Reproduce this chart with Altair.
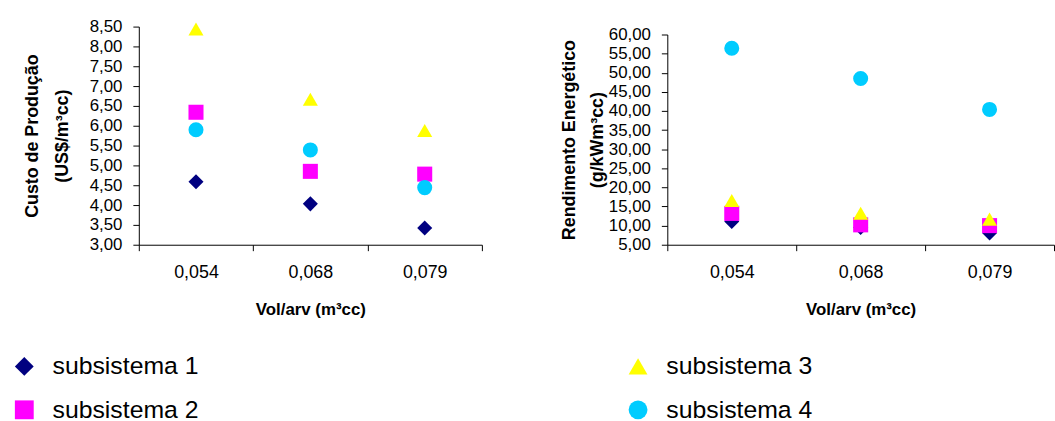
import altair as alt
import pandas as pd

# Categories on the x axis (tree volume, m³cc)
vol_labels = ["0,054", "0,068", "0,079"]
series_names = ["subsistema 1", "subsistema 2", "subsistema 3", "subsistema 4"]

# Production cost (US$/m³cc) per subsystem
custo_s1 = [4.59, 4.03, 3.42]
custo_s2 = [6.34, 4.85, 4.78]
custo_s3 = [8.44, 6.67, 5.88]
custo_s4 = [5.90, 5.39, 4.44]

# Energy yield (g/kWm³cc) per subsystem
rend_s1 = [11.1, 9.5, 8.1]
rend_s2 = [13.2, 10.2, 10.0]
rend_s3 = [16.6, 13.25, 11.7]
rend_s4 = [56.4, 48.5, 40.4]

custo_ticks = [3.0, 3.5, 4.0, 4.5, 5.0, 5.5, 6.0, 6.5, 7.0, 7.5, 8.0, 8.5]
rend_ticks = [5, 10, 15, 20, 25, 30, 35, 40, 45, 50, 55, 60]

colors = ["#000080", "#FF00FF", "#FFFF00", "#00CCFF"]
shapes = ["diamond", "square", "triangle-up", "circle"]

rows = []
custo_all = [custo_s1, custo_s2, custo_s3, custo_s4]
rend_all = [rend_s1, rend_s2, rend_s3, rend_s4]
for name, cs, rs in zip(series_names, custo_all, rend_all):
    for vol, c, r in zip(vol_labels, cs, rs):
        rows.append({"serie": name, "vol": vol, "custo": c, "rend": r})
df = pd.DataFrame(rows)

FONT = "Liberation Sans"
comma_fmt = "replace(format(datum.value, '.2f'), '.', ',')"

# Two-column legend below both panels: 1, 2 on the left and 3, 4 on the right
legend = alt.Legend(
    orient="none", legendX=-128, legendY=330, columns=2,
    columnPadding=430, rowPadding=18, symbolSize=361,
    labelFontSize=25, labelFont=FONT, labelOffset=16, labelLimit=0,
    padding=0, title=None, symbolOpacity=1, symbolStrokeWidth=0,
)
color = alt.Color("serie:N", scale=alt.Scale(domain=series_names, range=colors), legend=legend)
shape = alt.Shape("serie:N", scale=alt.Scale(domain=series_names, range=shapes), legend=legend)

x_enc = alt.X(
    "vol:N", sort=vol_labels,
    scale=alt.Scale(type="band", paddingInner=0, paddingOuter=0),
    axis=alt.Axis(
        title="Vol/arv (m³cc)", labelAngle=0, tickBand="extent",
        labelFontSize=18, titleFontSize=17, titleFontWeight="bold",
        tickSize=6, labelPadding=13, titlePadding=20,
    ),
)

base = alt.Chart(df).mark_point(filled=True, opacity=1, size=230)

left = base.encode(
    x=x_enc,
    y=alt.Y(
        "custo:Q",
        scale=alt.Scale(domain=[3, 8.5], nice=False, zero=False),
        axis=alt.Axis(
            values=custo_ticks, labelExpr=comma_fmt,
            title=["Custo de Produção", "(US$/m³cc)"],
            labelFontSize=17, titleFontSize=18, titleFontWeight="bold",
            titleLineHeight=30, tickSize=6, labelPadding=11, titlePadding=18,
        ),
    ),
    color=color, shape=shape,
).properties(width=346, height=220)

# The energy axis starts a little lower than the cost axis
right = base.encode(
    x=x_enc,
    y=alt.Y(
        "rend:Q",
        scale=alt.Scale(domain=[5, 60], nice=False, zero=False, range=[220, 8]),
        axis=alt.Axis(
            values=rend_ticks, labelExpr=comma_fmt,
            title=["Rendimento Energético", "(g/kWm³cc)"],
            labelFontSize=17, titleFontSize=18, titleFontWeight="bold",
            titleLineHeight=28, tickSize=6, labelPadding=11, titlePadding=2,
        ),
    ),
    color=color, shape=shape,
).properties(width=390, height=220)

chart = alt.hconcat(left, right, spacing=78).properties(
    padding={"left": 12, "top": 16, "right": 0, "bottom": 0}
).configure_view(stroke=None).configure_axis(
    grid=False, domainColor="black", tickColor="black",
    labelColor="black", titleColor="black",
    labelFont=FONT, titleFont=FONT,
)

chart.save("out.html", embed_options={"renderer": "svg", "actions": False})
